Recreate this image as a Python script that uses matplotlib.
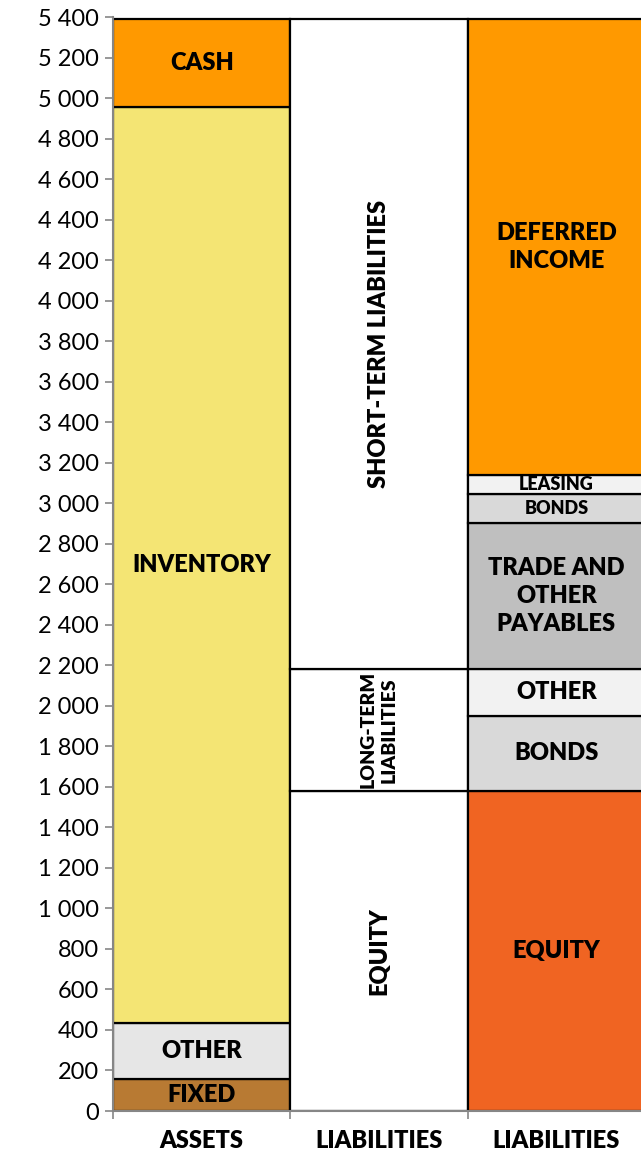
import matplotlib.pyplot as plt
from matplotlib.ticker import FuncFormatter, MultipleLocator

plt.rcParams['font.family'] = ['Lato', 'DejaVu Sans']

# columns
categories = ['ASSETS', 'LIABILITIES', 'LIABILITIES']

# segments, bottom to top
assets_labels = ['FIXED', 'OTHER', 'INVENTORY', 'CASH']
assets_values = [158, 277, 4523, 432]
assets_colors = ['#B87A33', '#E6E6E6', '#F4E574', '#FF9900']

mid_labels = ['EQUITY', 'LONG-TERM\nLIABILITIES', 'SHORT-TERM LIABILITIES']
mid_values = [1580, 603, 3207]
mid_colors = ['#FFFFFF', '#FFFFFF', '#FFFFFF']

right_labels = ['EQUITY', 'BONDS', 'OTHER', 'TRADE AND\nOTHER\nPAYABLES',
                'BONDS', 'LEASING', 'DEFERRED\nINCOME']
right_values = [1580, 371, 232, 717, 147, 90, 2253]
right_colors = ['#F06422', '#D9D9D9', '#F2F2F2', '#BFBFBF',
                '#D9D9D9', '#F2F2F2', '#FF9900']

columns = [
    (assets_labels, assets_values, assets_colors, 0),
    (mid_labels, mid_values, mid_colors, 90),
    (right_labels, right_values, right_colors, 0),
]

fig = plt.figure(figsize=(6.41, 11.56), dpi=100)
ax = fig.add_axes([113 / 641, 45 / 1156, 532 / 641, 1094 / 1156])

for i, (labels, values, colors, rot) in enumerate(columns):
    bottom = 0
    for lab, val, col in zip(labels, values, colors):
        ax.bar(i, val, width=1.0, bottom=bottom, color=col,
               edgecolor='black', linewidth=1.6, zorder=2)
        size = 17
        if lab == 'LEASING' or (lab == 'BONDS' and val < 200):
            size = 13
        if lab.startswith('LONG-TERM'):
            size = 14
        ax.text(i, bottom + val / 2, lab, ha='center', va='center',
                rotation=rot, fontsize=size, fontweight='heavy',
                linespacing=1.3 if rot else 1.35, zorder=3)
        bottom += val

ax.set_xlim(-0.5, 2.5)
ax.set_ylim(0, 5400)
ax.yaxis.set_major_locator(MultipleLocator(200))
ax.yaxis.set_major_formatter(FuncFormatter(lambda v, p: f'{int(v):,}'.replace(',', ' ')))

ax.set_xticks([-0.5, 0.5, 1.5, 2.5])
ax.set_xticklabels([])
ax.set_xticks([0, 1, 2], minor=True)
ax.set_xticklabels(categories, minor=True, fontsize=17, fontweight='heavy')
ax.tick_params(axis='x', which='minor', length=0, pad=14)
ax.tick_params(axis='x', which='major', length=6, width=1.2, color='#868686')
ax.tick_params(axis='y', length=6, width=1.2, color='#868686', labelsize=17, pad=4)

for s in ['top', 'right']:
    ax.spines[s].set_visible(False)
for s in ['left', 'bottom']:
    ax.spines[s].set_color('#868686')
    ax.spines[s].set_linewidth(1.5)

fig.savefig('out.png', dpi=100)
